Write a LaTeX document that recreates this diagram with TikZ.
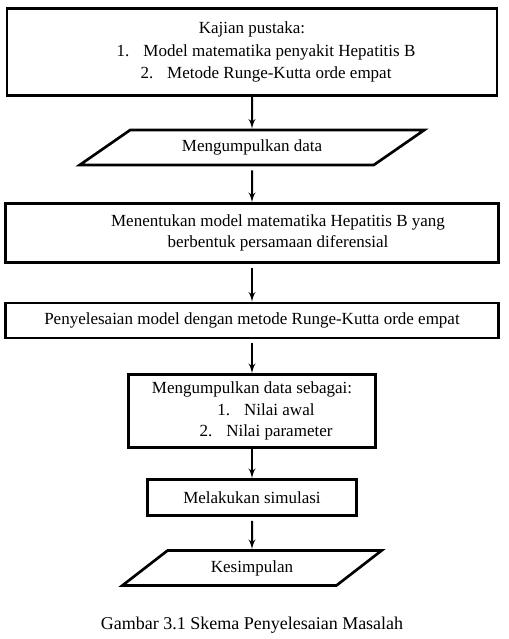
\documentclass[tikz,border=0pt]{standalone}
\usepackage{fontspec}
\setmainfont{Liberation Serif}
\usetikzlibrary{arrows,shapes.geometric}
\tikzset{
    box/.style={rectangle,draw,line width=2pt,align=center,inner sep=0pt},
    inout/.style={trapezium,draw,line width=2pt,trapezium stretches=true,align=center,inner sep=0pt},
    flow/.style={->,> = latex',line width=1.5pt},
}

\begin{document}
\begin{tikzpicture}[x=0.75pt,y=-0.75pt,font=\fontsize{12.75}{16}\selectfont]
    \useasboundingbox (0,0) rectangle (509,639);
    \node[box,minimum width=367.5pt,minimum height=65.25pt,font=\fontsize{12.75}{17}\selectfont] (pustaka) at (252,52) {Kajian pustaka:\\
        \hspace*{21pt}1.\hspace{10.5pt}Model matematika penyakit Hepatitis B\\
        \hspace*{21pt}2.\hspace{10.5pt}Metode Runge-Kutta orde empat};
    \node[inout,trapezium left angle=28,trapezium right angle=152,minimum width=258.75pt,minimum height=26.25pt] (data) at (252,147.5) {Mengumpulkan data};
    \node[box,minimum width=369.75pt,minimum height=44.25pt] (model) at (252,233) {\hspace*{39pt}Menentukan model matematika Hepatitis B yang\\
        \hspace*{39pt}berbentuk persamaan diferensial};
    \node[box,minimum width=369.75pt,minimum height=26.25pt] (solusi) at (252,320.5) {Penyelesaian model dengan metode Runge-Kutta orde empat};
    \node[box,minimum width=185.25pt,minimum height=54.75pt] (nilai) at (252,411) {Mengumpulkan data sebagai:\\
        \hspace*{21pt}1.\hspace{10.5pt}Nilai awal\\
        \hspace*{21pt}2.\hspace{10.5pt}Nilai parameter};
    \node[box,minimum width=156.75pt,minimum height=27pt] (simulasi) at (252,497.5) {Melakukan simulasi};
    \node[inout,trapezium left angle=35,trapezium right angle=145,minimum width=195.75pt,minimum height=26.25pt] (hasil) at (252,568) {Kesimpulan};
    \node[font=\fontsize{13.5}{16}\selectfont] (judul) at (252,625) {Gambar 3.1 Skema Penyelesaian Masalah};
    \draw[flow] (pustaka.south) -- (data.north);
    \draw[flow,shorten <=3pt] (data.south) -- (model.north);
    \draw[flow,shorten <=3pt] (model.south) -- (solusi.north);
    \draw[flow,shorten <=3pt] (solusi.south) -- (nilai.north);
    \draw[flow] (nilai.south) -- (simulasi.north);
    \draw[flow,shorten <=3pt] (simulasi.south) -- (hasil.north);
\end{tikzpicture}
\end{document}
